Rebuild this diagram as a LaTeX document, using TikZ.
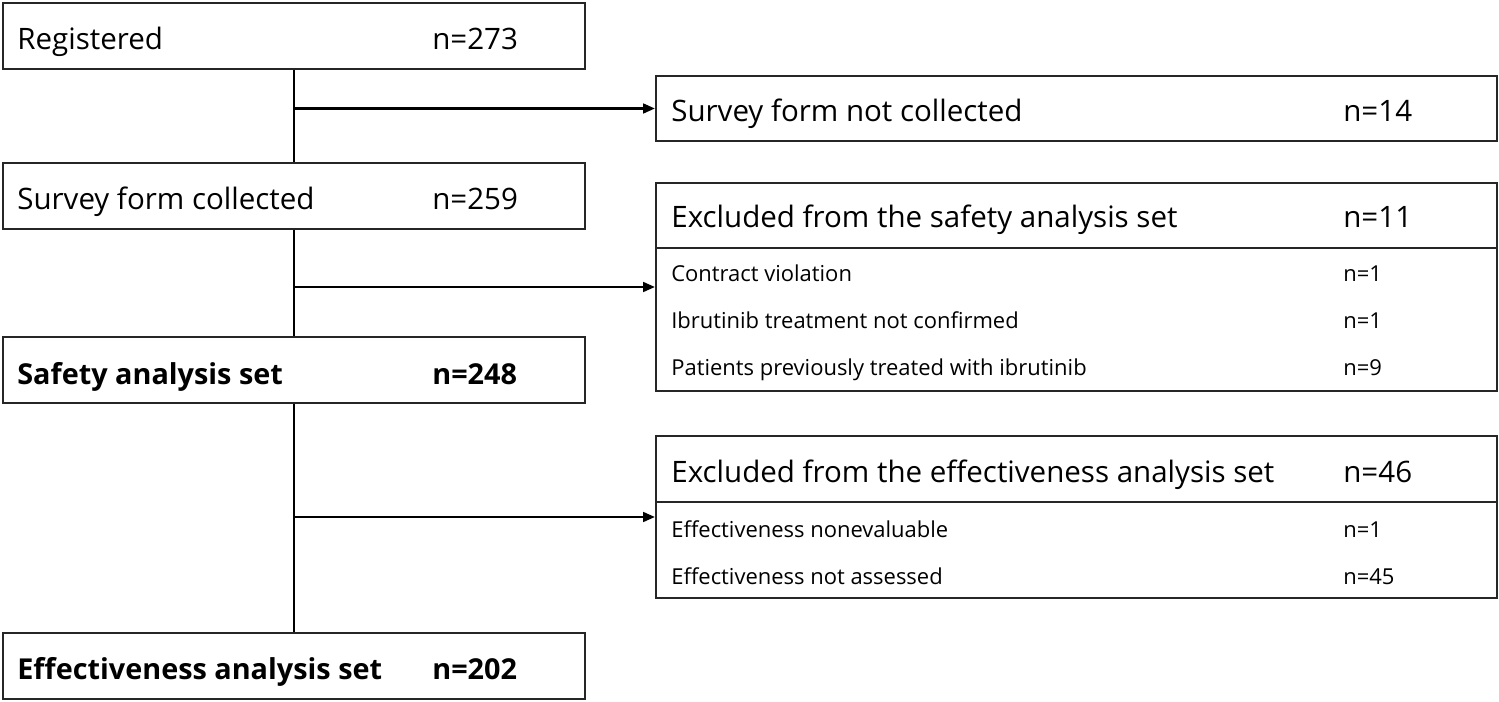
\documentclass[tikz,border=0pt]{standalone}
\usepackage{fontspec}
\setmainfont{Open Sans}
\usetikzlibrary{arrows.meta, positioning}
\colorlet{boxline}{black!85}

\begin{document}
\begin{tikzpicture}[x=0.02cm, y=-0.02cm, >={Triangle[length=2.4mm, width=1.9mm]},
    lbox/.style={draw=boxline, line width=1.1pt, minimum width=11.64cm, minimum height=1.32cm, inner sep=0pt},
    rbox/.style={draw=boxline, line width=1.1pt, minimum width=16.82cm, inner sep=0pt},
    big/.style={anchor=base west, inner sep=0pt, font=\fontsize{16.8}{20}\selectfont},
    bigb/.style={big, font=\fontsize{16.4}{20}\selectfont\bfseries},
    small/.style={anchor=base west, inner sep=0pt, font=\fontsize{12.5}{15}\selectfont},
    flow/.style={line width=1.6pt}]
    \useasboundingbox (0,0) rectangle (1499,702);

    % left column
    \node[lbox] (reg) at (294,36) {};
    \node[big] (regt) at (17,50) {Registered};
    \node[big] (regn) at (432,50) {n=273};

    \node[lbox] (col) at (294,196) {};
    \node[big] (colt) at (17,210) {Survey form collected};
    \node[big] (coln) at (432,210) {n=259};

    \node[lbox] (saf) at (294,370) {};
    \node[bigb] (saft) at (17,385) {Safety analysis set};
    \node[bigb] (safn) at (432,385) {n=248};

    \node[lbox] (eff) at (294,666) {};
    \node[bigb] (efft) at (17,680) {Effectiveness analysis set};
    \node[bigb] (effn) at (432,680) {n=202};

    % right column
    \node[rbox, minimum height=1.30cm] (notcol) at (1076.5,108.5) {};
    \node[big] (notcolt) at (671,122) {Survey form not collected};
    \node[big] (notcoln) at (1343,122) {n=14};

    \node[rbox, minimum height=4.16cm] (exsaf) at (1076.5,287) {};
    \draw[draw=boxline, line width=1.1pt] (656,248) -- (1497,248);
    \node[big] (exsaft) at (671,228) {Excluded from the safety analysis set};
    \node[big] (exsafn) at (1343,228) {n=11};
    \node[small] (ex1) at (671,282) {Contract violation};
    \node[small] (ex1n) at (1343,282) {n=1};
    \node[small] (ex2) at (671,329) {Ibrutinib treatment not confirmed};
    \node[small] (ex2n) at (1343,329) {n=1};
    \node[small] (ex3) at (671,376) {Patients previously treated with ibrutinib};
    \node[small] (ex3n) at (1343,376) {n=9};

    \node[rbox, minimum height=3.24cm] (exeff) at (1076.5,517) {};
    \draw[draw=boxline, line width=1.1pt] (656,502) -- (1497,502);
    \node[big] (exefft) at (671,483) {Excluded from the effectiveness analysis set};
    \node[big] (exeffn) at (1343,483) {n=46};
    \node[small] (ee1) at (671,538) {Effectiveness nonevaluable};
    \node[small] (ee1n) at (1343,538) {n=1};
    \node[small] (ee2) at (671,585) {Effectiveness not assessed};
    \node[small] (ee2n) at (1343,585) {n=45};

    % connectors
    \draw[flow] (reg) -- (col);
    \draw[flow] (col) -- (saf);
    \draw[flow] (saf) -- (eff);
    \draw[flow, ->] (reg.south |- notcol.west) -- (notcol.west);
    \draw[flow, ->] (col.south |- exsaf.west) -- (exsaf.west);
    \draw[flow, ->] (saf.south |- exeff.west) -- (exeff.west);
\end{tikzpicture}
\end{document}
